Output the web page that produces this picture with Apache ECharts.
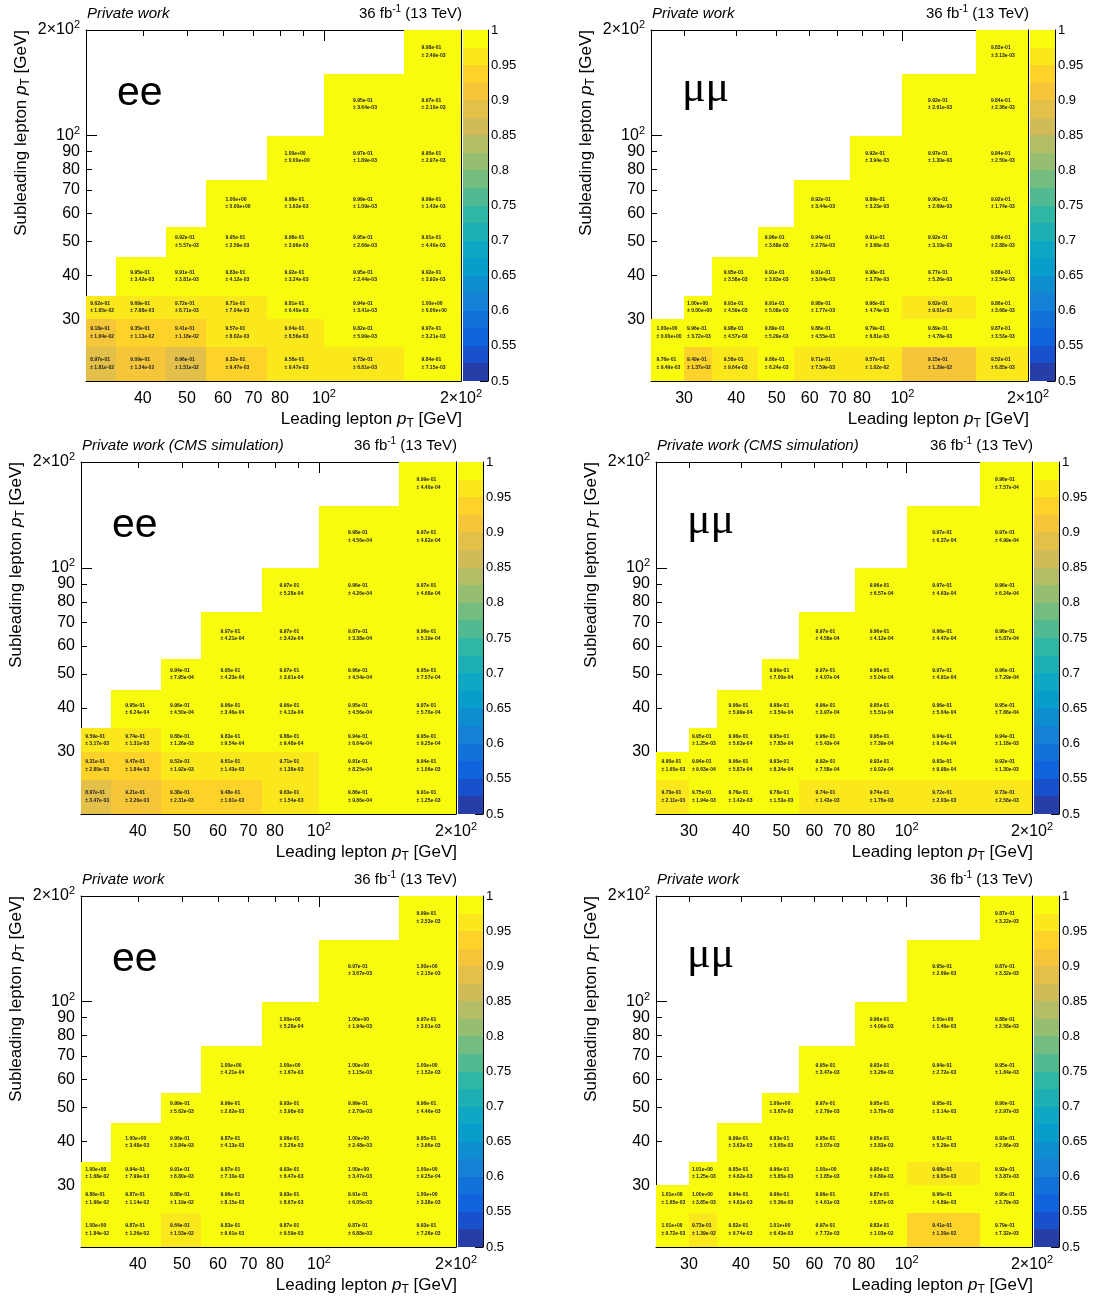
<!DOCTYPE html>
<html>
<head>
<meta charset="utf-8">
<title>Dilepton trigger efficiency maps</title>
<script src="https://cdn.jsdelivr.net/npm/echarts@6/dist/echarts.min.js"></script>
<style>
  html, body { margin: 0; padding: 0; background: #fff; }
  #chart { width: 1096px; height: 1302px; }
</style>
</head>
<body>
<div id="chart"></div>
<script>
// ---- binning (GeV) ----
const leadEdgesEE = [30, 35, 45, 55, 75, 100, 150, 200];
const leadEdgesMuMu = [25, 30, 35, 45, 55, 75, 100, 150, 200];
const subEdges = [20, 25, 30, 35, 45, 55, 75, 100, 150, 200];

// ---- axis tick / label values ----
const decadeTicks = [20, 30, 40, 50, 60, 70, 80, 90];
const majorTicks = [100];
const leadLabelsEE = [40, 50, 60, 70, 80, 100, 200];
const leadLabelsMuMu = [30, 40, 50, 60, 70, 80, 100, 200];
const subLabels = [30, 40, 50, 60, 70, 80, 90, 100, 200];
const zTicks = [0.5, 0.55, 0.6, 0.65, 0.7, 0.75, 0.8, 0.85, 0.9, 0.95, 1];

// ---- efficiencies, rows from the lowest subleading bin upwards ----
// each row fills the highest leading-pT bins (leading >= subleading)
const effEEPrivA = [
  [0.897, 0.909, 0.896, 0.932, 0.958, 0.973, 0.984],
  [0.918, 0.935, 0.941, 0.957, 0.964, 0.982, 0.997],
  [0.962, 0.969, 0.972, 0.971, 0.981, 0.994, 1.00],
  [0.995, 0.991, 0.983, 0.992, 0.995, 0.992],
  [0.992, 0.995, 0.998, 0.995, 0.991],
  [1.00, 0.998, 0.999, 0.999],
  [1.00, 0.997, 0.995],
  [0.995, 0.997],
  [0.998]
];
const errEEPrivA = [
  [1.81e-2, 1.34e-2, 1.51e-2, 9.47e-3, 9.47e-3, 6.81e-3, 7.15e-3],
  [1.64e-2, 1.13e-2, 1.18e-2, 8.02e-3, 8.56e-3, 5.99e-3, 3.21e-3],
  [1.65e-2, 7.88e-3, 8.71e-3, 7.04e-3, 6.40e-3, 3.41e-3, 0],
  [3.42e-3, 3.81e-3, 4.12e-3, 3.24e-3, 2.44e-3, 3.92e-3],
  [5.57e-3, 2.59e-3, 3.96e-3, 2.66e-3, 4.40e-3],
  [0, 1.63e-3, 1.09e-3, 1.43e-3],
  [0, 1.89e-3, 2.97e-3],
  [3.64e-3, 2.10e-3],
  [2.49e-3]
];

const effMuMuPrivA = [
  [0.976, 0.949, 0.958, 0.986, 0.971, 0.957, 0.915, 0.952],
  [1.00, 0.996, 0.998, 0.989, 0.988, 0.979, 0.989, 0.987],
  [1.00, 0.991, 0.991, 0.998, 0.998, 0.962, 0.986],
  [0.995, 0.991, 0.991, 0.998, 0.977, 0.988],
  [0.996, 0.994, 0.991, 0.992, 0.986],
  [0.992, 0.989, 0.990, 0.992],
  [0.992, 0.997, 0.984],
  [0.992, 0.984],
  [0.983]
];
const errMuMuPrivA = [
  [9.49e-3, 1.37e-2, 9.64e-3, 6.24e-3, 7.59e-3, 1.02e-2, 1.29e-2, 6.85e-3],
  [0, 3.72e-3, 4.57e-3, 5.29e-3, 4.55e-3, 6.81e-3, 4.78e-3, 3.53e-3],
  [0, 4.59e-3, 5.08e-3, 1.77e-3, 4.74e-3, 9.01e-3, 3.68e-3],
  [3.58e-3, 3.63e-3, 3.04e-3, 3.79e-3, 5.26e-3, 2.54e-3],
  [3.68e-3, 2.76e-3, 3.66e-3, 3.10e-3, 2.88e-3],
  [3.44e-3, 3.23e-3, 2.69e-3, 1.74e-3],
  [3.94e-3, 1.30e-3, 2.50e-3],
  [2.61e-3, 2.36e-3],
  [3.13e-3]
];

const effEESim = [
  [0.897, 0.921, 0.938, 0.948, 0.963, 0.986, 0.991],
  [0.931, 0.947, 0.952, 0.961, 0.971, 0.991, 0.994],
  [0.959, 0.974, 0.988, 0.983, 0.988, 0.994, 0.995],
  [0.995, 0.996, 0.996, 0.996, 0.995, 0.997],
  [0.994, 0.995, 0.997, 0.996, 0.995],
  [0.997, 0.997, 0.997, 0.996],
  [0.997, 0.996, 0.997],
  [0.998, 0.997],
  [0.999]
];
const errEESim = [
  [3.47e-3, 2.26e-3, 2.31e-3, 1.61e-3, 1.54e-3, 9.86e-4, 1.25e-3],
  [2.80e-3, 1.84e-3, 1.92e-3, 1.43e-3, 1.38e-3, 8.25e-4, 1.06e-3],
  [3.17e-3, 1.31e-3, 1.26e-3, 9.54e-4, 9.48e-4, 6.64e-4, 9.25e-4],
  [6.24e-4, 4.50e-4, 3.46e-4, 4.13e-4, 4.56e-4, 5.70e-4],
  [7.95e-4, 4.23e-4, 3.91e-4, 4.54e-4, 7.57e-4],
  [4.21e-4, 3.42e-4, 3.38e-4, 5.19e-4],
  [5.28e-4, 4.26e-4, 4.68e-4],
  [4.56e-4, 4.62e-4],
  [4.40e-4]
];

const effMuMuSim = [
  [0.970, 0.975, 0.976, 0.978, 0.974, 0.974, 0.972, 0.973],
  [0.990, 0.994, 0.996, 0.993, 0.992, 0.993, 0.993, 0.992],
  [0.995, 0.996, 0.995, 0.996, 0.995, 0.994, 0.994],
  [0.996, 0.998, 0.996, 0.995, 0.996, 0.995],
  [0.996, 0.997, 0.996, 0.997, 0.996],
  [0.997, 0.996, 0.996, 0.996],
  [0.996, 0.997, 0.996],
  [0.997, 0.997],
  [0.996]
];
const errMuMuSim = [
  [2.11e-3, 1.94e-3, 1.42e-3, 1.53e-3, 1.43e-3, 1.76e-3, 2.03e-3, 2.58e-3],
  [1.65e-3, 9.63e-4, 5.87e-4, 8.34e-4, 7.58e-4, 9.02e-4, 9.98e-4, 1.30e-3],
  [1.25e-3, 5.63e-4, 7.85e-4, 5.43e-4, 7.39e-4, 9.04e-4, 1.18e-3],
  [5.99e-4, 3.54e-4, 3.97e-4, 5.51e-4, 5.64e-4, 7.86e-4],
  [7.00e-4, 4.07e-4, 5.04e-4, 4.91e-4, 7.29e-4],
  [4.58e-4, 4.12e-4, 4.47e-4, 5.87e-4],
  [6.57e-4, 4.63e-4, 6.24e-4],
  [6.37e-4, 4.99e-4],
  [7.57e-4]
];

const effEEPrivB = [
  [1.00, 0.987, 0.964, 0.983, 0.987, 0.987, 0.993],
  [0.986, 0.987, 0.988, 0.996, 0.993, 0.991, 1.00],
  [1.00, 0.994, 0.991, 0.987, 0.993, 1.00, 1.00],
  [1.00, 0.996, 0.987, 0.996, 1.00, 0.995],
  [0.999, 0.999, 0.993, 0.999, 0.996],
  [1.00, 1.00, 1.00, 1.00],
  [1.00, 1.00, 0.997],
  [0.997, 1.00],
  [0.999]
];
const errEEPrivB = [
  [1.84e-2, 1.26e-2, 1.53e-2, 9.61e-3, 9.59e-3, 6.88e-3, 7.26e-3],
  [1.66e-2, 1.14e-2, 1.19e-2, 8.15e-3, 8.67e-3, 6.05e-3, 3.38e-3],
  [1.68e-2, 7.99e-3, 8.80e-3, 7.10e-3, 6.47e-3, 3.47e-3, 9.25e-4],
  [3.48e-3, 3.84e-3, 4.13e-3, 3.26e-3, 2.48e-3, 3.96e-3],
  [5.62e-3, 2.62e-3, 3.98e-3, 2.70e-3, 4.46e-3],
  [4.21e-4, 1.67e-3, 1.15e-3, 1.52e-3],
  [5.28e-4, 1.94e-3, 3.01e-3],
  [3.67e-3, 2.15e-3],
  [2.53e-3]
];

const effMuMuPrivB = [
  [1.01, 0.973, 0.982, 1.01, 0.997, 0.983, 0.941, 0.979],
  [1.01, 1.00, 0.994, 0.996, 0.996, 0.987, 0.996, 0.995],
  [1.01, 0.985, 0.996, 1.00, 0.995, 0.968, 0.992],
  [0.999, 0.993, 0.995, 0.995, 0.981, 0.993],
  [1.00, 0.997, 0.995, 0.995, 0.990],
  [0.995, 0.993, 0.994, 0.995],
  [0.996, 1.00, 0.988],
  [0.995, 0.987],
  [0.987]
];
const errMuMuPrivB = [
  [9.72e-3, 1.39e-2, 9.74e-3, 6.43e-3, 7.72e-3, 1.03e-2, 1.30e-2, 7.32e-3],
  [1.65e-3, 3.85e-3, 4.61e-3, 5.36e-3, 4.61e-3, 6.87e-3, 4.89e-3, 3.79e-3],
  [1.25e-3, 4.62e-3, 5.85e-3, 1.85e-3, 4.80e-3, 9.05e-3, 3.87e-3],
  [3.63e-3, 3.65e-3, 3.07e-3, 3.83e-3, 5.29e-3, 2.66e-3],
  [3.67e-3, 2.79e-3, 3.70e-3, 3.14e-3, 2.97e-3],
  [3.47e-3, 3.26e-3, 2.72e-3, 1.84e-3],
  [4.00e-3, 1.46e-3, 2.58e-3],
  [2.69e-3, 3.32e-3],
  [3.22e-3]
];

// ---- colour palette (bird), drawn with 20 contour bands ----
const zMin = 0.5, zMax = 1.0, nContours = 20;
const birdStops = [0.0, 0.125, 0.25, 0.375, 0.5, 0.625, 0.75, 0.875, 1.0];
const birdR = [0.2082, 0.0592, 0.0780, 0.0232, 0.1802, 0.5301, 0.8186, 0.9956, 0.9764];
const birdG = [0.1664, 0.3599, 0.5041, 0.6419, 0.7178, 0.7492, 0.7328, 0.7862, 0.9832];
const birdB = [0.5293, 0.8684, 0.8385, 0.7914, 0.6425, 0.4662, 0.3499, 0.1968, 0.0539];

function birdColor(t) {
  let i = 0;
  while (i < birdStops.length - 2 && t > birdStops[i + 1]) i++;
  const f = (t - birdStops[i]) / (birdStops[i + 1] - birdStops[i]);
  const c = (arr) => Math.round(255 * (arr[i] + f * (arr[i + 1] - arr[i])));
  return 'rgb(' + c(birdR) + ',' + c(birdG) + ',' + c(birdB) + ')';
}
function bandColor(k) {
  const idx = Math.floor((k + 0.99) * 255 / nContours);
  return birdColor(Math.min(idx, 254) / 254);
}
function valueColor(v) {
  let k = Math.floor((v - zMin) / (zMax - zMin) * nContours + 1e-9);
  k = Math.max(0, Math.min(nContours - 1, k));
  return bandColor(k);
}

// number format like 9.98e-01
function sci(v) {
  const s = v.toExponential(2);
  const parts = s.split('e');
  const ex = parseInt(parts[1], 10);
  const ab = Math.abs(ex);
  return parts[0] + 'e' + (ex < 0 ? '-' : '+') + (ab < 10 ? '0' : '') + ab;
}

const FONT = '"Liberation Sans", Arial, Helvetica, sans-serif';
const lg = Math.log10;

function tickLabel(val, pad) {
  const n = Math.round(Math.pow(10, val));
  if (n === 100) return '{m|10}{s|2}';
  if (n === 200) return '{m|2\u00d710}{s|2}';
  return '{m|' + n + '}' + (pad ? '{s|\u200b}' : '');
}
const tickRich = {
  m: { fontSize: 16, fontFamily: FONT, color: '#000', verticalAlign: 'middle' },
  s: { fontSize: 11, fontFamily: FONT, color: '#000', verticalAlign: 'middle', padding: [0, 0, 10, 0] }
};

const panels = [
  { rect: [86, 30, 375, 351], cb: 463, lead: leadEdgesEE, labels: leadLabelsEE, eff: effEEPrivA, err: errEEPrivA, title: 'Private work', chan: 'ee' },
  { rect: [651, 30, 377, 351], cb: 1030, lead: leadEdgesMuMu, labels: leadLabelsMuMu, eff: effMuMuPrivA, err: errMuMuPrivA, title: 'Private work', chan: '\u03bc\u03bc' },
  { rect: [81, 462, 375, 352], cb: 458, lead: leadEdgesEE, labels: leadLabelsEE, eff: effEESim, err: errEESim, title: 'Private work (CMS simulation)', chan: 'ee' },
  { rect: [656, 462, 376, 352], cb: 1034, lead: leadEdgesMuMu, labels: leadLabelsMuMu, eff: effMuMuSim, err: errMuMuSim, title: 'Private work (CMS simulation)', chan: '\u03bc\u03bc' },
  { rect: [81, 896, 375, 351], cb: 458, lead: leadEdgesEE, labels: leadLabelsEE, eff: effEEPrivB, err: errEEPrivB, title: 'Private work', chan: 'ee' },
  { rect: [656, 896, 376, 351], cb: 1034, lead: leadEdgesMuMu, labels: leadLabelsMuMu, eff: effMuMuPrivB, err: errMuMuPrivB, title: 'Private work', chan: '\u03bc\u03bc' }
];

const option = {
  animation: false,
  backgroundColor: '#ffffff',
  grid: [], xAxis: [], yAxis: [], series: [], graphic: []
};

function cellRenderer(params, api) {
  const a = api.coord([api.value(0), api.value(2)]);
  const b = api.coord([api.value(1), api.value(3)]);
  const L = Math.round(a[0]), R = Math.round(b[0]);
  const B = Math.round(a[1]), T = Math.round(b[1]);
  const v = api.value(4), e = api.value(5);
  const cx = (a[0] + b[0]) / 2, cy = (a[1] + b[1]) / 2;
  const tstyle = (txt) => ({
    text: txt, fill: '#222', font: 'bold 5px ' + FONT,
    align: 'left', verticalAlign: 'middle'
  });
  return {
    type: 'group',
    children: [
      { type: 'rect', shape: { x: L, y: T, width: R - L, height: B - T }, style: { fill: valueColor(v) } },
      { type: 'text', x: cx - 11, y: cy - 4, style: tstyle(sci(v)) },
      { type: 'text', x: cx - 11, y: cy + 3.3, style: tstyle('\u00b1 ' + sci(e)) }
    ]
  };
}

function bandRenderer(params, api) {
  const k = api.value(0);
  const step = (zMax - zMin) / nContours;
  const a = api.coord([0, zMin + k * step]);
  const b = api.coord([1, zMin + (k + 1) * step]);
  const L = Math.round(a[0]), R = Math.round(b[0]);
  const B = Math.round(a[1]), T = Math.round(b[1]);
  return { type: 'rect', shape: { x: L, y: T, width: R - L, height: B - T }, style: { fill: bandColor(k) } };
}

panels.forEach((p) => {
  const [L, T, W, H] = p.rect;
  const lead = p.lead;
  const xMin = lg(lead[0]), xMax = lg(lead[lead.length - 1]);
  const yMin = lg(subEdges[0]), yMax = lg(subEdges[subEdges.length - 1]);
  const minorX = decadeTicks.filter(t => t > lead[0]).map(lg);
  const minorY = decadeTicks.filter(t => t > subEdges[0]).map(lg);
  const major = majorTicks.map(lg);

  const gMain = option.grid.length;
  option.grid.push({ left: L, top: T, width: W, height: H, containLabel: false, outerBoundsMode: 'none' });
  const gMaj = option.grid.length;
  option.grid.push({ left: L, top: T, width: W, height: H, containLabel: false, outerBoundsMode: 'none' });
  const gCb = option.grid.length;
  option.grid.push({ left: p.cb, top: T, width: 25, height: H, containLabel: false, outerBoundsMode: 'none' });

  const line = { show: true, onZero: false, lineStyle: { color: '#000', width: 1 } };
  const noLine = { show: false, onZero: false };

  // frame, short ticks, labels
  const xMainIdx = option.xAxis.length;
  option.xAxis.push({
    gridIndex: gMain, type: 'value', position: 'bottom', min: xMin, max: xMax,
    axisLine: line,
    axisTick: { show: true, inside: true, length: 6, customValues: minorX, lineStyle: { color: '#000' } },
    axisLabel: {
      show: true, customValues: p.labels.map(lg), margin: 7,
      formatter: (v) => tickLabel(v, true), rich: tickRich
    },
    splitLine: { show: false }
  });
  option.xAxis.push({
    gridIndex: gMain, type: 'value', position: 'top', min: xMin, max: xMax,
    axisLine: line,
    axisTick: { show: true, inside: true, length: 6, customValues: minorX, lineStyle: { color: '#000' } },
    axisLabel: { show: false }, splitLine: { show: false }
  });
  const yMainIdx = option.yAxis.length;
  option.yAxis.push({
    gridIndex: gMain, type: 'value', position: 'left', min: yMin, max: yMax,
    axisLine: line,
    axisTick: { show: true, inside: true, length: 6, customValues: minorY, lineStyle: { color: '#000' } },
    axisLabel: {
      show: true, customValues: subLabels.map(lg), margin: 6,
      formatter: (v) => tickLabel(v, false), rich: tickRich
    },
    splitLine: { show: false }
  });
  option.yAxis.push({
    gridIndex: gMain, type: 'value', position: 'right', min: yMin, max: yMax,
    axisLine: line,
    axisTick: { show: true, inside: true, length: 6, customValues: minorY, lineStyle: { color: '#000' } },
    axisLabel: { show: false }, splitLine: { show: false }
  });

  // long ticks at the decade
  const xMajIdx = option.xAxis.length;
  ['bottom', 'top'].forEach(pos => option.xAxis.push({
    gridIndex: gMaj, type: 'value', position: pos, min: xMin, max: xMax,
    axisLine: noLine,
    axisTick: { show: true, inside: true, length: 11, customValues: major, lineStyle: { color: '#000' } },
    axisLabel: { show: false }, splitLine: { show: false }
  }));
  const yMajIdx = option.yAxis.length;
  ['left', 'right'].forEach(pos => option.yAxis.push({
    gridIndex: gMaj, type: 'value', position: pos, min: yMin, max: yMax,
    axisLine: noLine,
    axisTick: { show: true, inside: true, length: 11, customValues: major, lineStyle: { color: '#000' } },
    axisLabel: { show: false }, splitLine: { show: false }
  }));

  // colour bar axes
  const xCbIdx = option.xAxis.length;
  option.xAxis.push({ gridIndex: gCb, type: 'value', min: 0, max: 1, show: false });
  const yCbIdx = option.yAxis.length;
  option.yAxis.push({
    gridIndex: gCb, type: 'value', position: 'right', min: zMin, max: zMax, interval: 0.05,
    axisLine: { show: true, onZero: false, lineStyle: { color: '#000', width: 1 } },
    axisTick: { show: true, inside: true, length: 8, customValues: zTicks, lineStyle: { color: '#000' } },
    axisLabel: {
      show: true, customValues: zTicks, margin: 3, fontSize: 13, fontFamily: FONT, color: '#000',
      formatter: (v) => String(+v.toFixed(2))
    },
    splitLine: { show: false }
  });

  // efficiency cells
  const nCols = lead.length - 1;
  const cells = [];
  p.eff.forEach((row, r) => {
    const start = nCols - row.length;
    row.forEach((v, j) => {
      const c = start + j;
      cells.push([lg(lead[c]), lg(lead[c + 1]), lg(subEdges[r]), lg(subEdges[r + 1]), v, p.err[r][j]]);
    });
  });
  option.series.push({
    type: 'custom', coordinateSystem: 'cartesian2d',
    xAxisIndex: xMainIdx, yAxisIndex: yMainIdx,
    encode: { x: [0, 1], y: [2, 3] },
    data: cells, renderItem: cellRenderer, silent: true, clip: false, z: 1
  });
  // keep the overlay grid in use
  option.series.push({
    type: 'custom', coordinateSystem: 'cartesian2d',
    xAxisIndex: xMajIdx, yAxisIndex: yMajIdx, data: [],
    renderItem: () => ({ type: 'group', children: [] }), silent: true
  });
  // colour bar bands
  const bands = [];
  for (let k = 0; k < nContours; k++) bands.push([k]);
  option.series.push({
    type: 'custom', coordinateSystem: 'cartesian2d',
    xAxisIndex: xCbIdx, yAxisIndex: yCbIdx,
    data: bands, renderItem: bandRenderer, silent: true, clip: false, z: 1
  });

  // texts around the frame
  option.graphic.push({
    type: 'text', x: L + 1, y: T - 16, silent: true,
    style: { text: p.title, font: 'italic 15px ' + FONT, fill: '#000', align: 'left', verticalAlign: 'middle' }
  });
  option.graphic.push({
    type: 'text', x: L + W + 1, y: T - 16, silent: true,
    style: {
      text: '{n|36 fb}{s|-1}{n| (13 TeV)}', align: 'right', verticalAlign: 'middle', fill: '#000',
      rich: {
        n: { fontSize: 15, fontFamily: FONT, fill: '#000', verticalAlign: 'middle' },
        s: { fontSize: 10, fontFamily: FONT, fill: '#000', verticalAlign: 'middle', padding: [0, 0, 10, 0] }
      }
    }
  });
  option.graphic.push({
    type: 'text', x: L + W + 1, y: T + H + 38, silent: true,
    style: {
      text: '{n|Leading lepton }{i|p}{t|T}{n| [GeV]}', align: 'right', verticalAlign: 'middle', fill: '#000',
      rich: {
        n: { fontSize: 17, fontFamily: FONT, fill: '#000', verticalAlign: 'middle' },
        i: { fontSize: 17, fontFamily: FONT, fontStyle: 'italic', fill: '#000', verticalAlign: 'middle' },
        t: { fontSize: 12, fontFamily: FONT, fill: '#000', verticalAlign: 'middle', padding: [10, 0, 0, 0] }
      }
    }
  });
  option.graphic.push({
    type: 'text', x: L - 65, y: T, rotation: Math.PI / 2, silent: true,
    style: {
      text: '{n|Subleading lepton }{i|p}{t|T}{n| [GeV]}', align: 'right', verticalAlign: 'middle', fill: '#000',
      rich: {
        n: { fontSize: 17, fontFamily: FONT, fill: '#000', verticalAlign: 'middle' },
        i: { fontSize: 17, fontFamily: FONT, fontStyle: 'italic', fill: '#000', verticalAlign: 'middle' },
        t: { fontSize: 12, fontFamily: FONT, fill: '#000', verticalAlign: 'middle', padding: [10, 0, 0, 0] }
      }
    }
  });
  const isEE = p.chan === 'ee';
  option.graphic.push({
    type: 'text', x: L + 31, y: T + (isEE ? 64 : 59), silent: true, z: 10,
    style: {
      text: p.chan, fill: '#000', align: 'left', verticalAlign: 'middle',
      font: isEE ? '41px ' + FONT : '44px "Liberation Serif", "DejaVu Serif", serif'
    }
  });
});

const chart = echarts.init(document.getElementById('chart'), null, { renderer: 'canvas', width: 1096, height: 1302 });
chart.setOption(option);
</script>
</body>
</html>
